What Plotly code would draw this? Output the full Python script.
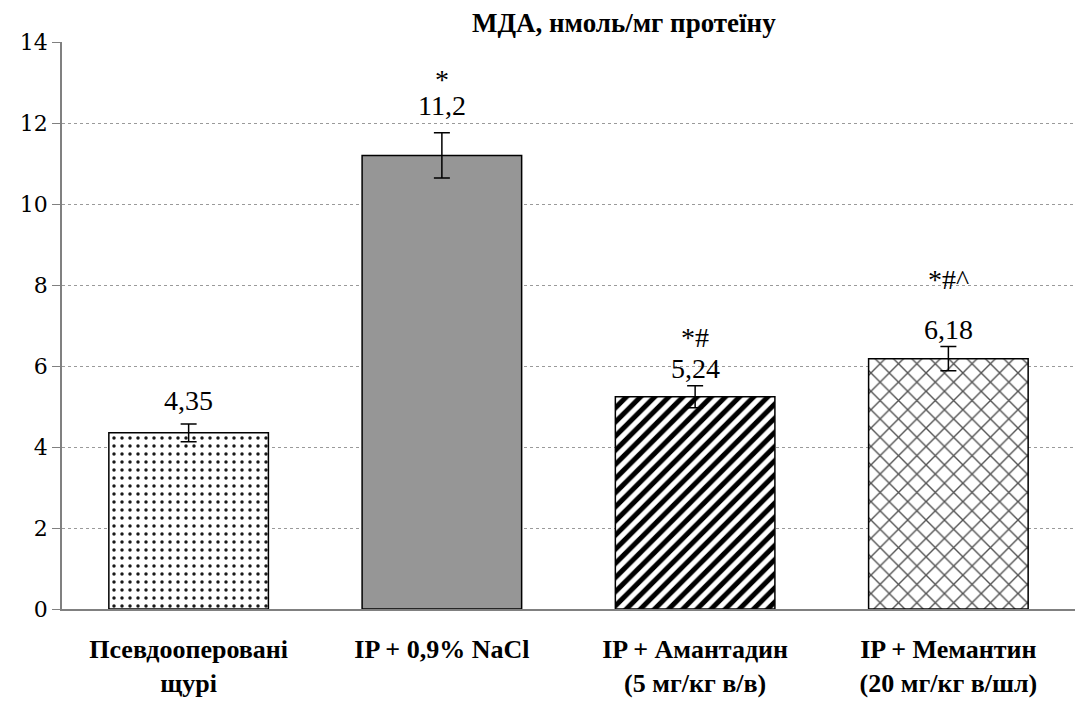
import plotly.graph_objects as go

# Lipid peroxidation marker per experimental group
categories = [
    "Псевдооперовані<br>щурі",
    "IP + 0,9% NaCl",
    "IP + Амантадин<br>(5 мг/кг в/в)",
    "IP + Мемантин<br>(20 мг/кг в/шл)",
]
values = [4.35, 11.2, 5.24, 6.18]
errors = [0.22, 0.56, 0.27, 0.30]
value_labels = ["4,35", "11,2", "5,24", "6,18"]
significance = ["", "*", "*#", "*#^"]
y_ticks = [0, 2, 4, 6, 8, 10, 12, 14]

# per-bar fill styles
fill_colors = ["white", "#969696", "white", "white"]
pattern_fg = ["black", "black", "black", "#333333"]
pattern_shapes = [".", "", "/", "x"]
pattern_sizes = [8, 8, 10, 13]
pattern_solidity = [0.15, 0.3, 0.5, 0.2]
pattern_opacity = [0.9, 1.0, 1.0, 0.85]

label_shift = [6, 10, 0, 0]      # px gap between error bar cap and value label
sig_shift = [0, 26, 31, 50]      # px gap from value label to significance marks

SERIF = "Liberation Serif"

fig = go.Figure()
for i, cat in enumerate(categories):
    fig.add_trace(go.Bar(
        x=[cat],
        y=[values[i]],
        width=0.63,
        error_y=dict(type="data", array=[errors[i]], color="black", thickness=1.5, width=8),
        marker=dict(
            color=fill_colors[i],
            line=dict(color="black", width=1.5),
            pattern=dict(
                shape=pattern_shapes[i],
                fgcolor=pattern_fg[i],
                fgopacity=pattern_opacity[i],
                size=pattern_sizes[i],
                solidity=pattern_solidity[i],
                fillmode="overlay",
            ),
        ),
        hoverinfo="skip",
    ))

annotations = []
for i, cat in enumerate(categories):
    top = values[i] + errors[i]
    annotations.append(dict(
        x=cat, y=top, xref="x", yref="y", text=value_labels[i],
        showarrow=False, yanchor="bottom", yshift=label_shift[i],
        font=dict(family=SERIF, size=28, color="black"),
    ))
    if significance[i]:
        annotations.append(dict(
            x=cat, y=top, xref="x", yref="y", text=significance[i],
            showarrow=False, yanchor="bottom", yshift=label_shift[i] + sig_shift[i],
            font=dict(family=SERIF, size=28, color="black"),
        ))

annotations.append(dict(
    x=0.555, y=1.0, xref="paper", yref="paper", text="<b>МДА, нмоль/мг протеїну</b>",
    showarrow=False, yanchor="bottom", yshift=2,
    font=dict(family=SERIF, size=27, color="black"),
))

fig.update_layout(
    width=1079, height=704,
    margin=dict(l=62, r=4, t=42, b=95),
    paper_bgcolor="white", plot_bgcolor="white",
    showlegend=False,
    barmode="overlay",
    annotations=annotations,
    xaxis=dict(
        showline=True, linecolor="#808080", linewidth=1.5,
        ticks="", ticklabelstandoff=16,
        tickfont=dict(family=SERIF, size=26, color="black"),
        tickprefix="<b>", ticksuffix="</b>",
    ),
    yaxis=dict(
        range=[0, 14], tickvals=y_ticks,
        showline=True, linecolor="#808080", linewidth=1.5,
        ticks="outside", ticklen=8, tickcolor="#808080",
        showgrid=True, gridcolor="#9a9a9a", griddash="dot", gridwidth=1,
        tickfont=dict(family="DejaVu Serif", size=22, color="black"),
        zeroline=False,
    ),
)

fig.write_html("out.html")
